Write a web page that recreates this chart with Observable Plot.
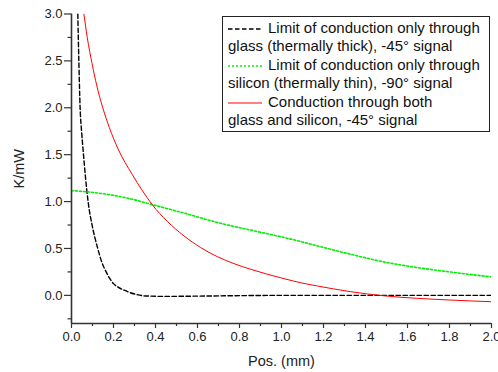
<!DOCTYPE html>
<html>
<head>
<meta charset="utf-8">
<script src="https://cdn.jsdelivr.net/npm/d3@7"></script>
<script src="https://cdn.jsdelivr.net/npm/@observablehq/plot@0.6"></script>
<style>
  body { margin: 0; background: #fff; }
  #wrap { position: relative; width: 498px; height: 372px; font-family: "Liberation Sans", Arial, sans-serif; }
  #wrap svg text { font-family: "Liberation Sans", Arial, sans-serif !important; }
  #legend { position: absolute; left: 222px; top: 16px; width: 261px; height: 112px; border: 1px solid #222; background: #fff;
            font-size: 15px; line-height: 18.4px; color: #111; padding: 2px 0 0 5px; box-sizing: content-box; white-space: nowrap; }
  #legend .row { height: 18.4px; }
  #legend svg { vertical-align: middle; margin-right: 6px; }
</style>
</head>
<body>
<div id="wrap"></div>
<script>
// Glass-only limit (thermally thick), -45° signal
const glassX = [0.030, 0.035, 0.041, 0.048, 0.056, 0.067, 0.079, 0.098, 0.125, 0.145, 0.165, 0.182, 0.200, 0.220, 0.240, 0.257, 0.280, 0.305, 0.350, 0.450, 0.600, 0.800, 1.000, 1.500, 2.000];
const glassY = [3.00, 2.50, 2.00, 1.75, 1.53, 1.25, 1.00, 0.75, 0.50, 0.35, 0.25, 0.18, 0.125, 0.09, 0.065, 0.05, 0.028, 0.012, -0.006, -0.011, -0.008, -0.003, 0.0, 0.0, 0.0];
// Silicon-only limit (thermally thin), -90° signal
const siliconX = [0.000, 0.130, 0.289, 0.377, 0.535, 0.694, 0.853, 1.012, 1.091, 1.171, 1.330, 1.489, 1.648, 1.806, 2.000];
const siliconY = [1.117, 1.090, 1.025, 0.972, 0.878, 0.777, 0.696, 0.617, 0.574, 0.527, 0.438, 0.356, 0.296, 0.249, 0.196];
// Both glass and silicon, -45° signal
const bothX = [0.059, 0.075, 0.098, 0.120, 0.149, 0.180, 0.222, 0.289, 0.335, 0.385, 0.456, 0.535, 0.615, 0.694, 0.774, 0.853, 0.933, 1.012, 1.091, 1.171, 1.330, 1.489, 1.648, 1.806, 2.000];
const bothY = [3.00, 2.75, 2.47, 2.24, 2.00, 1.79, 1.56, 1.29, 1.125, 0.965, 0.79, 0.635, 0.51, 0.413, 0.338, 0.278, 0.225, 0.178, 0.135, 0.100, 0.039, -0.005, -0.032, -0.050, -0.068];

const xMajor = [0, 0.2, 0.4, 0.6, 0.8, 1.0, 1.2, 1.4, 1.6, 1.8, 2.0];
const xMinor = [0.1, 0.3, 0.5, 0.7, 0.9, 1.1, 1.3, 1.5, 1.7, 1.9];
const yMajor = [0, 0.5, 1.0, 1.5, 2.0, 2.5, 3.0];
const yMinor = [-0.25, 0.25, 0.75, 1.25, 1.75, 2.25, 2.75];

const legendLabels = [
  ["Limit of conduction only through", "glass (thermally thick), -45\u00B0 signal"],
  ["Limit of conduction only through", "silicon (thermally thin), -90\u00B0 signal"],
  ["Conduction through both", "glass and silicon, -45\u00B0 signal"]
];

const toRows = (xs, ys) => xs.map((x, i) => ({x, y: ys[i]}));
const glass = toRows(glassX, glassY);
const silicon = toRows(siliconX, siliconY);
const both = toRows(bothX, bothY);

const series = [
  {stroke: "#000000", width: 1.4, dash: "4.5,2.5"},
  {stroke: "#00ee00", width: 1.6, dash: "2,2"},
  {stroke: "#ff0000", width: 1, dash: null}
];

const axisColor = "#333";
const chart = Plot.plot({
  width: 498,
  height: 372,
  marginLeft: 71,
  marginRight: 7,
  marginTop: 13.5,
  marginBottom: 49,
  style: {fontFamily: "'Liberation Sans', Arial, sans-serif", fontSize: "13px", color: "#222", background: "#fff"},
  x: {domain: [0, 2.0]},
  y: {domain: [-0.3, 3.0]},
  marks: [
    Plot.line(glass, {x: "x", y: "y", stroke: series[0].stroke, strokeWidth: series[0].width, strokeDasharray: series[0].dash, clip: true, curve: "monotone-x"}),
    Plot.line(silicon, {x: "x", y: "y", stroke: series[1].stroke, strokeWidth: series[1].width, strokeDasharray: series[1].dash, clip: true, curve: "monotone-x"}),
    Plot.line(both, {x: "x", y: "y", stroke: series[2].stroke, strokeWidth: series[2].width, clip: true, curve: "monotone-x"}),
    Plot.axisX(xMajor, {tickSize: 5, tickPadding: 3, tickFormat: d3.format(".1f"), stroke: axisColor, strokeWidth: 1.2,
      label: "Pos. (mm)", labelAnchor: "center", labelArrow: "none", labelOffset: 42, fontSize: 13}),
    Plot.axisX(xMinor, {tickSize: 3, text: null, stroke: axisColor, strokeWidth: 1.2, label: null}),
    Plot.axisY(yMajor, {tickSize: 7, tickPadding: 2, tickFormat: d3.format(".1f"), stroke: axisColor, strokeWidth: 1.2,
      label: "K/mW", labelAnchor: "center", labelArrow: "none", labelOffset: 58, fontSize: 13}),
    Plot.axisY(yMinor, {tickSize: 3.5, text: null, stroke: axisColor, strokeWidth: 1.2, label: null}),
    Plot.ruleX([0], {stroke: axisColor, strokeWidth: 1.6}),
    Plot.ruleY([-0.3], {stroke: axisColor, strokeWidth: 1.6})
  ]
});
// enlarge axis label fonts
chart.querySelectorAll("g[aria-label='x-axis label'] text, g[aria-label='y-axis label'] text").forEach(t => t.setAttribute("font-size", "14.5"));

const wrap = document.getElementById("wrap");
wrap.appendChild(chart);

// legend
const legend = document.createElement("div");
legend.id = "legend";
legendLabels.forEach((lines, i) => {
  const s = series[i];
  const r1 = document.createElement("div");
  r1.className = "row";
  r1.innerHTML = `<svg width="34" height="6"><line x1="0" x2="34" y1="3" y2="3" stroke="${s.stroke}" stroke-width="${s.width}" ${s.dash ? `stroke-dasharray="${s.dash}"` : ""}/></svg>${lines[0]}`;
  const r2 = document.createElement("div");
  r2.className = "row";
  r2.textContent = lines[1];
  legend.appendChild(r1);
  legend.appendChild(r2);
});
wrap.appendChild(legend);
</script>
</body>
</html>
